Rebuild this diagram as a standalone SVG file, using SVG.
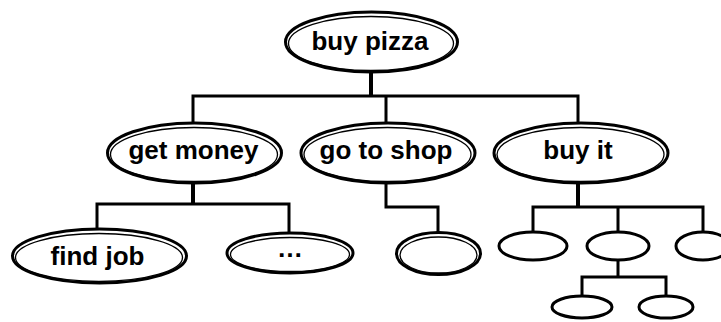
<svg xmlns="http://www.w3.org/2000/svg" width="721" height="322" viewBox="0 0 721 322">
<style>
.o{fill:#fff;stroke:#000;stroke-width:3}
.i{fill:none;stroke:#000;stroke-width:1.3}
.s{fill:#fff;stroke:#000;stroke-width:3}
.t{font-family:"Liberation Sans",Arial,sans-serif;font-weight:bold;font-size:26px;text-anchor:middle;fill:#000}
.c{fill:none;stroke:#000;stroke-width:3;stroke-linecap:square;stroke-linejoin:miter}
.st{fill:none;stroke:#000;stroke-width:4}
</style>
<rect width="721" height="322" fill="#fff"/>
<g id="connectors">
<path class="st" d="M371 72V96"/>
<path class="c" d="M193 122V96H578V122M386 96V122"/>
<path class="st" d="M193 183V204"/>
<path class="c" d="M97 229V204H289V232"/>
<path class="c" d="M386 183V207H438V232"/>
<path class="st" d="M578 183V207"/>
<path class="c" d="M533 232V207H703V232M618 207V232"/>
<path class="c" d="M618 260V277M582 296V277H666V296"/>
</g>
<g id="buy-pizza">
<ellipse class="o" cx="371.5" cy="42" rx="86" ry="30"/>
<ellipse class="i" cx="371" cy="43.5" rx="82.5" ry="27"/>
<text class="t" x="370" y="50">buy pizza</text>
</g>
<g id="get-money">
<ellipse class="o" cx="194.5" cy="153" rx="87" ry="30"/>
<ellipse class="i" cx="194" cy="154.5" rx="83.5" ry="27"/>
<text class="t" x="193.5" y="159">get money</text>
</g>
<g id="go-to-shop">
<ellipse class="o" cx="388" cy="153" rx="87" ry="30"/>
<ellipse class="i" cx="387.5" cy="154.5" rx="83.5" ry="27"/>
<text class="t" x="386" y="159">go to shop</text>
</g>
<g id="buy-it">
<ellipse class="o" cx="581" cy="153" rx="87" ry="30"/>
<ellipse class="i" cx="580.5" cy="154.5" rx="83.5" ry="27"/>
<text class="t" x="578" y="159">buy it</text>
</g>
<g id="find-job">
<ellipse class="o" cx="99.5" cy="256" rx="87" ry="27"/>
<ellipse class="i" cx="99" cy="257.5" rx="83.5" ry="24"/>
<text class="t" x="97.5" y="265">find job</text>
</g>
<g id="ellipsis">
<ellipse class="o" cx="290" cy="253" rx="63" ry="20"/>
<ellipse class="i" cx="290" cy="254.5" rx="59.5" ry="17"/>
<text class="t" x="290" y="257">…</text>
</g>
<g id="shop-child">
<ellipse class="o" cx="438.5" cy="253.5" rx="42" ry="21"/>
<ellipse class="i" cx="438.5" cy="255" rx="38.5" ry="18"/>
</g>
<g id="buy-child-1"><ellipse class="s" cx="533" cy="246" rx="34" ry="14"/></g>
<g id="buy-child-2"><ellipse class="s" cx="618" cy="246" rx="31" ry="14"/></g>
<g id="buy-child-3"><ellipse class="s" cx="703" cy="246" rx="27" ry="14"/></g>
<g id="sub-child-1"><ellipse class="s" cx="582" cy="307" rx="30" ry="11"/></g>
<g id="sub-child-2"><ellipse class="s" cx="666" cy="307" rx="27" ry="11"/></g>
</svg>
